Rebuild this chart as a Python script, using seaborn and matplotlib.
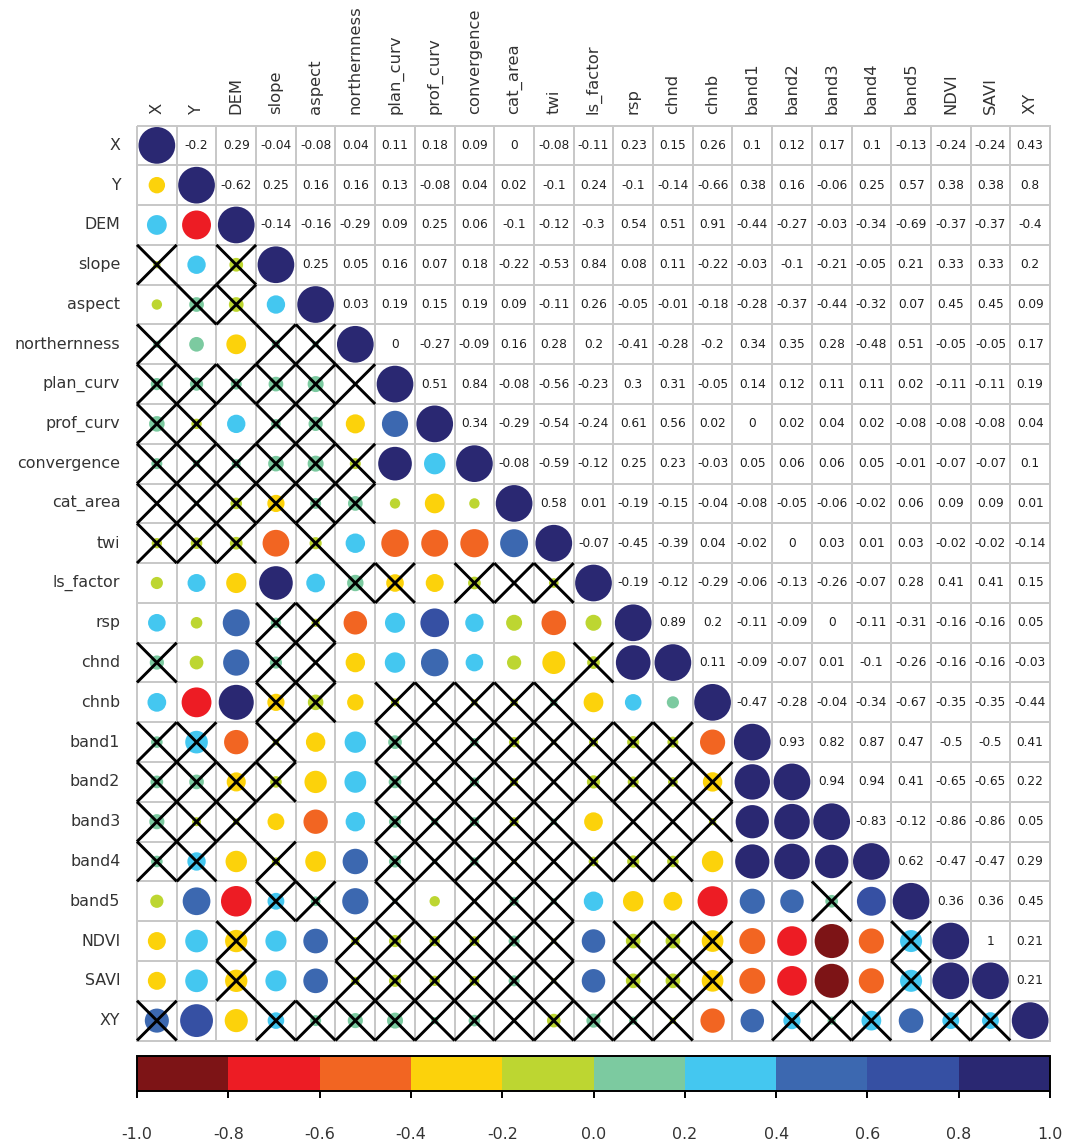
import numpy as np
import pandas as pd
import matplotlib
matplotlib.use("Agg")
import matplotlib.pyplot as plt
from matplotlib.colors import ListedColormap, BoundaryNorm
import matplotlib.cm as cm
import seaborn as sns

plt.rcParams["font.family"] = ["DejaVu Sans"]
plt.rcParams["axes.unicode_minus"] = False

variables = ["X", "Y", "DEM", "slope", "aspect", "northernness", "plan_curv",
             "prof_curv", "convergence", "cat_area", "twi", "ls_factor", "rsp",
             "chnd", "chnb", "band1", "band2", "band3", "band4", "band5",
             "NDVI", "SAVI", "XY"]

# Pearson coefficients to the right of the diagonal, one list per variable
r_X = [-0.2, 0.29, -0.04, -0.08, 0.04, 0.11, 0.18, 0.09, 0, -0.08, -0.11, 0.23,
       0.15, 0.26, 0.1, 0.12, 0.17, 0.1, -0.13, -0.24, -0.24, 0.43]
r_Y = [-0.62, 0.25, 0.16, 0.16, 0.13, -0.08, 0.04, 0.02, -0.1, 0.24, -0.1, -0.14,
       -0.66, 0.38, 0.16, -0.06, 0.25, 0.57, 0.38, 0.38, 0.8]
r_DEM = [-0.14, -0.16, -0.29, 0.09, 0.25, 0.06, -0.1, -0.12, -0.3, 0.54, 0.51,
         0.91, -0.44, -0.27, -0.03, -0.34, -0.69, -0.37, -0.37, -0.396]
r_slope = [0.25, 0.05, 0.16, 0.07, 0.18, -0.22, -0.53, 0.84, 0.08, 0.11, -0.22,
           -0.03, -0.1, -0.21, -0.05, 0.21, 0.33, 0.33, 0.204]
r_aspect = [0.03, 0.19, 0.15, 0.19, 0.09, -0.11, 0.26, -0.05, -0.01, -0.18,
            -0.28, -0.37, -0.44, -0.32, 0.07, 0.45, 0.45, 0.09]
r_northernness = [0, -0.27, -0.09, 0.16, 0.28, 0.2, -0.41, -0.28, -0.2, 0.34,
                  0.35, 0.28, -0.48, 0.51, -0.05, -0.05, 0.17]
r_plan_curv = [0.51, 0.84, -0.08, -0.56, -0.23, 0.3, 0.31, -0.05, 0.14, 0.12,
               0.11, 0.11, 0.02, -0.11, -0.11, 0.19]
r_prof_curv = [0.34, -0.29, -0.54, -0.24, 0.61, 0.56, 0.02, 0, 0.02, 0.04, 0.02,
               -0.08, -0.08, -0.08, 0.04]
r_convergence = [-0.08, -0.59, -0.12, 0.25, 0.23, -0.03, 0.05, 0.06, 0.06, 0.05,
                 -0.01, -0.07, -0.07, 0.1]
r_cat_area = [0.58, 0.01, -0.19, -0.15, -0.04, -0.08, -0.05, -0.06, -0.02, 0.06,
              0.09, 0.09, 0.01]
r_twi = [-0.07, -0.45, -0.39, 0.04, -0.02, 0, 0.03, 0.01, 0.03, -0.02, -0.02,
         -0.14]
r_ls_factor = [-0.19, -0.12, -0.29, -0.06, -0.13, -0.26, -0.07, 0.28, 0.41,
               0.41, 0.15]
r_rsp = [0.89, 0.204, -0.11, -0.09, 0, -0.11, -0.31, -0.16, -0.16, 0.05]
r_chnd = [0.11, -0.09, -0.07, 0.01, -0.1, -0.26, -0.16, -0.16, -0.03]
r_chnb = [-0.47, -0.28, -0.04, -0.34, -0.67, -0.35, -0.35, -0.44]
r_band1 = [0.93, 0.82, 0.87, 0.47, -0.5, -0.5, 0.41]
r_band2 = [0.94, 0.94, 0.41, -0.65, -0.65, 0.22]
r_band3 = [-0.83, -0.12, -0.86, -0.86, 0.05]
r_band4 = [0.62, -0.47, -0.47, 0.29]
r_band5 = [0.36, 0.36, 0.45]
r_NDVI = [1, 0.21]
r_SAVI = [0.21]

upper_rows = [r_X, r_Y, r_DEM, r_slope, r_aspect, r_northernness, r_plan_curv,
              r_prof_curv, r_convergence, r_cat_area, r_twi, r_ls_factor, r_rsp,
              r_chnd, r_chnb, r_band1, r_band2, r_band3, r_band4, r_band5,
              r_NDVI, r_SAVI]

# circles below the diagonal that carry a different value than the printed one
circle_overrides = {("band4", "band3"): 0.83,
                    ("band5", "band3"): 0.12,
                    ("band4", "northernness"): 0.48}

# non-significant pairs below the diagonal ("x"), rows Y .. XY, columns X ..
insignificant = [
    ".",
    "..",
    "x.x",
    ".xx.",
    "x..xx",
    "xxxxxx",
    "xx.xx..",
    "xxxxxx..",
    "xxxxxx...",
    "xxx.x.....",
    ".....xx.xxx",
    "...xx.......",
    "x..xx......x.",
    "...xx.xxxxx...",
    "xx.x..xxxxxxxx.",
    "xxxx..xxxxxxxxx.",
    "xxx...xxxxx.xxx..",
    "xx.x..xxxxxxxx....",
    "...xx.x.xxx......x.",
    "..x..xxxxxx.xxx....x",
    "..x..xxxxxx.xxx....x.",
    "x..xxxxxxxxxxx..xxx.xx",
]

bin_colors = ["#7D1416", "#ED1C24", "#F26522", "#FCD20B", "#BDD631",
              "#7CCAA0", "#44C7F0", "#3C68B0", "#3650A3", "#2A2872"]
cbar_ticks = [-1.0, -0.8, -0.6, -0.4, -0.2, 0.0, 0.2, 0.4, 0.6, 0.8, 1.0]

n = len(variables)
corr = np.eye(n)
for i, row in enumerate(upper_rows):
    corr[i, i + 1:] = row
    corr[i + 1:, i] = row
circles = corr.copy()
for (a, b), v in circle_overrides.items():
    circles[variables.index(a), variables.index(b)] = v

crossed = np.zeros((n, n), dtype=bool)
for i, s in enumerate(insignificant, start=1):
    for j, ch in enumerate(s):
        crossed[i, j] = ch == "x"


def label(v):
    s = f"{v:.2f}".rstrip("0").rstrip(".")
    return "0" if s in ("-0", "") else s


def colour_bin(v):
    k = int(np.ceil(round((v + 1) * 5, 9)))
    return min(max(k, 1), 10) - 1


annot = np.full((n, n), "", dtype=object)
for i in range(n):
    for j in range(i + 1, n):
        annot[i, j] = label(corr[i, j])

W, H = 1077, 1144
fig = plt.figure(figsize=(W / 100, H / 100), dpi=100)
x0, x1, y0, y1 = 137, 1050, 125.5, 1040.5
ax = fig.add_axes([x0 / W, 1 - y1 / H, (x1 - x0) / W, (y1 - y0) / H])

sns.heatmap(np.zeros((n, n)), ax=ax, cmap=ListedColormap(["white"]), cbar=False,
            linewidths=1.3, linecolor="#c8c8c8", annot=annot, fmt="",
            annot_kws=dict(size=8.7, color="#1e1e1e"),
            xticklabels=variables, yticklabels=variables)
ax.collections[0].set_clip_on(False)

rows = []
for i in range(n):
    for j in range(i + 1):
        v = circles[i, j]
        rows.append(dict(x=j + 0.5, y=i + 0.5, mag=abs(v),
                         level=colour_bin(v)))
df = pd.DataFrame(rows)

cell_pt = (x1 - x0) / n * 72 / 100
smax = (0.925 * cell_pt) ** 2
sns.scatterplot(data=df, x="x", y="y", size="mag", sizes=(0, smax),
                size_norm=(0, 1), hue="level",
                palette={k: c for k, c in enumerate(bin_colors)},
                hue_order=list(range(10)), legend=False, linewidth=0,
                ax=ax, zorder=3)

for i in range(n):
    for j in range(i):
        if crossed[i, j]:
            ax.plot([j, j + 1], [i, i + 1], color="black", lw=2.1,
                    zorder=4, clip_on=False, solid_capstyle="butt")
            ax.plot([j + 1, j], [i, i + 1], color="black", lw=2.1,
                    zorder=4, clip_on=False, solid_capstyle="butt")

ax.set_xlim(0, n)
ax.set_ylim(n, 0)
ax.set_xlabel("")
ax.set_ylabel("")
ax.xaxis.tick_top()
ax.tick_params(axis="x", rotation=90, length=0, pad=8, labelsize=11.8,
               labelcolor="#333333")
ax.tick_params(axis="y", rotation=0, length=0, pad=12, labelsize=11.4,
               labelcolor="#333333")

cax = fig.add_axes([x0 / W, 1 - 1091 / H, (x1 - x0) / W, 35 / H])
cmap = ListedColormap(bin_colors)
norm = BoundaryNorm(np.linspace(-1, 1, 11), 10)
cb = fig.colorbar(cm.ScalarMappable(norm=norm, cmap=cmap), cax=cax,
                  orientation="horizontal", ticks=cbar_ticks)
cb.set_ticklabels([f"{t:.1f}" for t in cbar_ticks])
cb.outline.set_linewidth(1.4)
cb.outline.set_edgecolor("black")
cax.tick_params(axis="x", length=5, width=1.4, pad=21, labelsize=11.4,
                labelcolor="#333333", direction="out")

fig.savefig("out.png", dpi=100)
